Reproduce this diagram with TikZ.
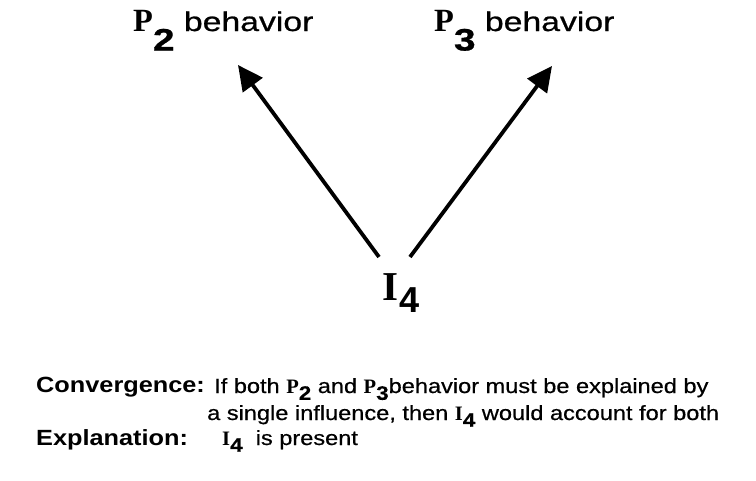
\documentclass[tikz,border=0pt]{standalone}
\usepackage{fontspec}
\usepackage{graphicx}
\setmainfont{Liberation Sans}
\newfontfamily\pfont{Liberation Serif}
\newfontfamily\widefont{Liberation Sans}[FakeStretch=1.15]
\newfontfamily\glossfont{Liberation Sans}[FakeStretch=1.15, FakeBold=0.6]
\newfontfamily\headfont{Liberation Sans}[FakeStretch=1.25, FakeBold=0.8]
\usetikzlibrary{arrows.meta,positioning}

% variable letters: bold serif capital, bold sans index set low
\newcommand{\pvar}[2]{{\pfont\bfseries\scalebox{1.2}{#1}}\raisebox{-.9\height}{\scalebox{1.15}{\bfseries #2}}}
\newcommand{\bvar}[2]{{\pfont\bfseries #1}\raisebox{-.5\height}{\scalebox{.95}{\bfseries #2}}}
\newcommand{\ivar}[2]{{\pfont\bfseries\scalebox{1.08}{#1}}\kern.04em\raisebox{-.5\height}{\scalebox{.95}{\bfseries #2}}}

\begin{document}
\begin{tikzpicture}[
  x=1pt, y=-1pt,
  toplabel/.style={inner sep=0pt, anchor=base west, font=\headfont\fontsize{27}{32}\selectfont},
  source/.style={inner sep=0pt, anchor=base west, font=\fontsize{38}{42}\selectfont},
  term/.style={inner sep=0pt, anchor=base west, font=\widefont\fontsize{22}{26}\selectfont\bfseries},
  gloss/.style={inner sep=0pt, anchor=base west, font=\glossfont\fontsize{20.5}{25}\selectfont},
  arrow/.style={-{Triangle[length=25pt,width=24pt]}, line width=3.8pt}
]
\useasboundingbox (0,0) rectangle (756,480);
\node[toplabel] (p2) at (133,31) {\pvar{P}{2} behavior};
\node[toplabel] (p3) at (434,31) {\pvar{P}{3} behavior};
\node[source] (i4) at (382,300) {\ivar{I}{4}};
\draw[arrow] ([shift={(-3pt,43pt)}]i4.base west) -- ([shift={(105pt,-34pt)}]p2.base west);
\draw[arrow] ([shift={(28pt,43pt)}]i4.base west) -- ([shift={(118pt,-35pt)}]p3.base west);

\node[term] (conv) at (36,392) {Convergence:};
\node[gloss] (line1) at (214,393) {If both \bvar{P}{2} and \bvar{P}{3}behavior must be explained by};
\node[gloss] (line2) at (207,420) {a single influence, then \bvar{I}{4} would account for both};
\node[term] (expl) at (36,445) {Explanation:};
\node[gloss] (pres) at (222,445) {\bvar{I}{4}\ \ is present};
\end{tikzpicture}
\end{document}
